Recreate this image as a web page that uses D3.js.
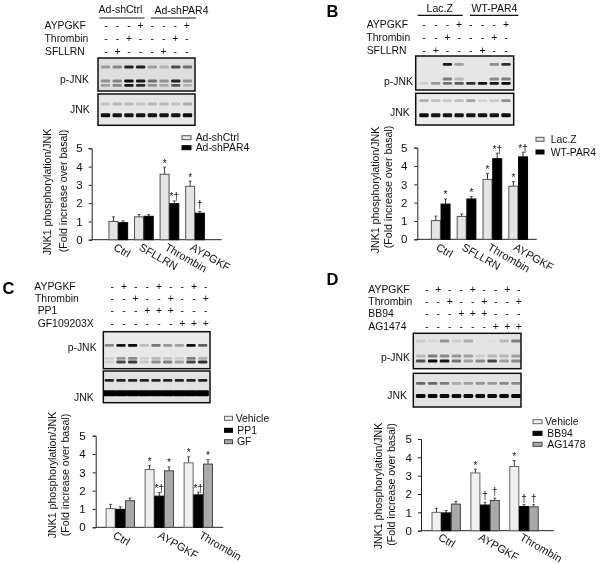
<!DOCTYPE html>
<html><head><meta charset="utf-8">
<script src="https://cdn.jsdelivr.net/npm/d3@7/dist/d3.min.js"></script>
<style>
html,body{margin:0;padding:0;background:#fff}
svg{display:block}
text{font-family:"Liberation Sans",Arial,sans-serif;fill:#111}
</style></head><body>
<svg id="fig" width="600" height="564"></svg>
<script>
// ---------- DATA ----------
const ticks = [0,1,2,3,4,5];
const yTitle = ["JNK1 phosphorylation/JNK","(Fold increase over basal)"];

const aCategories = ["Ctrl","SFLLRN","Thrombin","AYPGKF"];
const aSeries = ["Ad-shCtrl","Ad-shPAR4"];
const aValues = [[1.0,1.25,3.58,2.92],[0.93,1.28,1.97,1.45]];
const aErrTops = [[1.25,1.38,3.97,3.2],[1.03,1.37,2.12,1.55]];
const aNotes = [["","","*","*"],["","","*†","†"]];

const bCategories = ["Ctrl","SFLLRN","Thrombin","AYPGKF"];
const bSeries = ["Lac.Z","WT-PAR4"];
const bValues = [[1.02,1.25,3.27,2.9],[1.92,2.2,4.4,4.5]];
const bErrTops = [[1.27,1.38,3.6,3.15],[2.2,2.33,4.7,4.75]];
const bNotes = [["","","*","*"],["*","*","*†","*†"]];

const cCategories = ["Ctrl","AYPGKF","Thrombin"];
const cSeries = ["Vehicle","PP1","GF"];
const cValues = [[1.02,3.15,3.52],[0.98,1.7,1.77],[1.45,3.08,3.45]];
const cErrTops = [[1.25,3.38,3.85],[1.12,1.9,1.92],[1.6,3.3,3.7]];
const cNotes = [["","*","*"],["","*†","*†"],["","*","*"]];

const dCategories = ["Ctrl","AYPGKF","Thrombin"];
const dSeries = ["Vehicle","BB94","AG1478"];
const dValues = [[1.0,3.15,3.5],[0.97,1.4,1.32],[1.45,1.65,1.3]];
const dErrTops = [[1.22,3.35,3.82],[1.1,1.55,1.42],[1.6,1.78,1.42]];
const dNotes = [["","*","*"],["","†","†"],["","†","†"]];

const aTreatments = ["AYPGKF","Thrombin","SFLLRN"];
const aSigns = ["---+---+","--+---+-","-+---+--"];
const bTreatments = ["AYPGKF","Thrombin","SFLLRN"];
const bSigns = ["---+---+","--+---+-","-+---+--"];
const cTreatments = ["AYPGKF","Thrombin","PP1","GF109203X"];
const cSigns = ["-+--+--+-","--+--+--+","---+++---","------+++"];
const dTreatments = ["AYPGKF","Thrombin","BB94","AG1474"];
const dSigns = ["-+--+--+-","--+--+--+","---+++---","------+++"];

// blot band intensities, lane by lane
const aPJnk = [[.3,.4,.85,.85,.3,.2,.65,.5],[.35,.4,.95,.9,.5,.35,.85,.35],[.3,.4,.9,.8,.35,.25,.6,.2]];
const aJnk  = [[.15,.2,.2,.15,.2,.2,.15,.25],[.95,.9,.9,.9,.9,.9,.9,.95]];
const bPJnk = [[0,0,.9,.3,0,0,.4,.8],[0,0,.45,.2,0,0,.4,.45],[.1,.35,.5,.6,.8,.95,.9,1]];
const bJnk  = [[.25,.2,.15,.2,.3,.1,.15,.4],[.95,.9,.9,.9,.9,.9,.9,.95]];
const cPJnk = [[.4,.9,.95,.2,.5,.35,.3,.95,.6],[.1,.35,.4,.1,.2,.15,.1,.45,.25],[.1,.7,.75,.15,.4,.45,.3,.7,.8]];
const cJnk  = [[.85,.85,.85,.85,.85,.85,.85,.85,.85],[1,1,1,1,1,1,1,1,1]];
const dPJnk = [[.1,.05,.35,.1,.25,0,.03,.2,.45],[.2,.45,.4,.35,.3,.1,.2,.2,.3],[.65,1,.9,.5,.3,.4,.7,.3,.4]];
const dJnk  = [[.55,.55,.45,.25,.3,.35,.35,.4,.4],[.95,.95,.95,.95,.95,.95,.95,.95,.95]];

// ---------- STYLE / LAYOUT ----------
const FS = 10.4, BAR = 9.7;
const fills = {light2:["#e4e4e4","#000"], tri:["#efefef","#000","#a9a9a9"]};
const strokes = {"#e4e4e4":"#555","#efefef":"#666","#000":"#000","#a9a9a9":"#444"};

const svg = d3.select("#fig");
const defs = svg.append("defs");
defs.append("filter").attr("id","soft").append("feGaussianBlur").attr("stdDeviation",.3);
defs.append("filter").attr("id","band").attr("x","-30%").attr("y","-100%").attr("width","160%").attr("height","300%")
  .append("feGaussianBlur").attr("stdDeviation",.7);
const root = svg.append("g").attr("filter","url(#soft)");

function chart(o){
  const g = root.append("g");
  const n = o.categories.length;
  const y = d3.scaleLinear().domain([0,5]).range([o.y0,o.y5]);
  const span = (o.cN-o.c1)/(n-1);
  const x0 = d3.scaleBand().domain(o.categories).range([o.c1-span/2,o.cN+span/2]);
  const x1 = d3.scaleBand().domain(d3.range(o.series.length)).range([0,BAR*o.series.length]);
  const offs = x0.bandwidth()/2 - BAR*o.series.length/2;

  g.append("g").attr("transform",`translate(${o.axisX},0)`)
    .call(d3.axisLeft(y).tickValues(ticks).tickSize(3).tickPadding(o.tickPad).tickFormat(d3.format("d")))
    .call(s=>{s.select(".domain").attr("stroke","#222");s.selectAll("line").attr("stroke","#222");
      s.selectAll("text").attr("font-size",11.5).style("font-family",'"Liberation Sans",Arial,sans-serif').attr("fill","#111");});

  const xAxis = g.append("g").attr("transform",`translate(0,${o.y0})`)
    .call(d3.axisBottom(x0).tickSize(0));
  xAxis.select(".domain").remove();
  xAxis.selectAll("text").attr("font-size",11).attr("fill","#111")
    .style("font-family",'"Liberation Sans",Arial,sans-serif')
    .attr("text-anchor","start").attr("dy",null).attr("y",null).attr("dominant-baseline","central")
    .attr("transform",(d,i)=>`translate(${o.labelDx[i]},${o.labelY-o.y0}) rotate(30)`);
  g.append("line").attr("x1",o.axisX).attr("x2",o.axisEnd).attr("y1",o.y0).attr("y2",o.y0).attr("stroke","#222");

  o.series.forEach((s,si)=>{
    const sg = g.append("g");
    const px = c=>x0(c)+offs+x1(si);
    const rows = o.categories.map((c,i)=>({c,v:o.values[si][i],e:o.errs[si][i],t:o.notes[si][i]}));
    sg.selectAll("line.err").data(rows).join("line").attr("class","err")
      .attr("x1",d=>px(d.c)+BAR/2).attr("x2",d=>px(d.c)+BAR/2).attr("y1",d=>y(d.v)).attr("y2",d=>y(d.e))
      .attr("stroke","#333").attr("stroke-width",1);
    sg.selectAll("line.cap").data(rows).join("line").attr("class","cap")
      .attr("x1",d=>px(d.c)+BAR/2-1.5).attr("x2",d=>px(d.c)+BAR/2+1.5).attr("y1",d=>y(d.e)).attr("y2",d=>y(d.e))
      .attr("stroke","#333").attr("stroke-width",.8);
    sg.selectAll("rect").data(rows).join("rect")
      .attr("x",d=>px(d.c)+.35).attr("width",BAR-.7).attr("y",d=>y(d.v)).attr("height",d=>y(0)-y(d.v))
      .attr("fill",o.fills[si]).attr("stroke",strokes[o.fills[si]]).attr("stroke-width",1);
    sg.selectAll("text").data(rows.filter(d=>d.t)).join("text")
      .attr("x",d=>px(d.c)+BAR/2).attr("y",d=>y(d.e)-(d.t==="†"?3:0.5))
      .attr("text-anchor","middle").attr("font-size",10).text(d=>d.t);
  });

  // y title
  yTitle.forEach((t,i)=>g.append("text")
    .attr("transform",`translate(${o.titleX[i]},${o.titleY[i]}) rotate(-90)`)
    .attr("text-anchor","middle").attr("dominant-baseline","central")
    .attr("font-size",10.6).text(t));

  // legend
  o.series.forEach((s,i)=>{
    g.append("rect").attr("x",o.legX).attr("y",o.legY[i]-2).attr("width",o.legW).attr("height",4)
      .attr("fill",o.fills[i]).attr("stroke",strokes[o.fills[i]]);
    g.append("text").attr("x",o.legTextX[i]).attr("y",o.legY[i]).attr("dominant-baseline","central")
      .attr("font-size",FS).text(s);
  });
}

function blot(o){
  const g = root.append("g");
  // treatment table
  const xs = d3.scalePoint().domain(d3.range(o.signs[0].length)).range(o.signRange);
  o.treatments.forEach((t,r)=>{
    g.append("text").attr("x",o.labelX[r]).attr("y",o.rowY[r]).attr("dominant-baseline","central")
      .attr("font-size",FS).text(t);
    g.selectAll(null).data(o.signs[r].split("")).join("text")
      .attr("x",(d,i)=>xs(i)).attr("y",o.rowY[r]).attr("text-anchor","middle").attr("dominant-baseline","central")
      .attr("font-size",FS).text(d=>d);
  });
  // boxes + bands
  const lanes = d3.scalePoint().domain(d3.range(o.pjnk[0].length)).range(o.laneRange);
  const bw = (o.laneRange[1]-o.laneRange[0])/(o.pjnk[0].length-1)*.8;
  [[o.box1,o.pjnk,o.y1,o.bg[0]],[o.box2,o.jnk,o.y2,o.bg[1]]].forEach(([b,rows,ys,bg],k)=>{
    g.append("rect").attr("x",b[0]).attr("y",b[1]).attr("width",b[2]-b[0]).attr("height",b[3]-b[1]).attr("fill",bg);
    rows.forEach((row,r)=>{
      const h = (k===1&&r===rows.length-1)?o.thick:2.8;
      const wide = o.solid&&k===1&&r===1;
      g.append("g").attr("filter","url(#band)").selectAll("rect").data(row).join("rect")
        .attr("x",(d,i)=>lanes(i)-bw/2-(wide?1.5:0))
        .attr("width",bw+(wide?3:0))
        .attr("y",ys[r]-h/2).attr("height",h).attr("rx",1.2)
        .attr("fill","#050505").attr("fill-opacity",d=>d);
    });
    g.append("rect").attr("x",b[0]).attr("y",b[1]).attr("width",b[2]-b[0]).attr("height",b[3]-b[1])
      .attr("fill","none").attr("stroke","#111").attr("stroke-width",1.5);
  });
  g.append("text").attr("x",o.pLabel[0]).attr("y",o.pLabel[1]).attr("dominant-baseline","central").attr("font-size",FS).text("p-JNK");
  g.append("text").attr("x",o.jLabel[0]).attr("y",o.jLabel[1]).attr("dominant-baseline","central").attr("font-size",FS).text("JNK");
  (o.headers||[]).forEach(h=>{
    g.append("text").attr("x",h.x).attr("y",h.y).attr("text-anchor","middle").attr("dominant-baseline","central").attr("font-size",10.5).text(h.t);
    g.append("line").attr("x1",h.l[0]).attr("x2",h.l[1]).attr("y1",h.ly).attr("y2",h.ly).attr("stroke","#111").attr("stroke-width",1.2);
  });
  if(o.letter) g.append("text").attr("x",o.letter[1]).attr("y",o.letter[2]).attr("font-size",16.5)
    .attr("font-weight","bold").attr("fill","#000").style("fill","#000").text(o.letter[0]);
}

// Panel A
blot({treatments:aTreatments,signs:aSigns,signRange:[106,186.7],rowY:[25,38.3,51.7],labelX:[44.5,44.5,45],
  pjnk:aPJnk,jnk:aJnk,laneRange:[105.5,187.5],box1:[98,58,195,91],box2:[98,94,195,125.3],
  y1:[67,81,85.3],y2:[104,115.3],bg:["#dedede","#e6e6e6"],thick:4,pLabel:[60,79.3],jLabel:[70,109.3],
  headers:[{t:"Ad-shCtrl",x:120.5,y:9,l:[99.3,144.3],ly:18},{t:"Ad-shPAR4",x:181.5,y:10,l:[151,195.7],ly:18}]});
chart({categories:aCategories,series:aSeries,values:aValues,errs:aErrTops,notes:aNotes,fills:fills.light2,
  y0:239.7,y5:148.3,c1:118.3,cN:195,axisX:91.7,axisEnd:221.7,tickPad:6,labelY:246,labelDx:[-3.5,-3.5,-3.5,-3.5],
  titleX:[47.3,62.7],titleY:[192,191],legX:182,legW:9,legY:[137.7,147.7],legTextX:[195.7,195.7]});

// Panel B
blot({treatments:bTreatments,signs:bSigns,signRange:[424,506],rowY:[24,37,50.3],labelX:[366.7,366.3,366.7],
  pjnk:bPJnk,jnk:bJnk,laneRange:[424,506],box1:[415.7,56,513.7,90],box2:[415.7,93.3,513.7,125],
  y1:[64.3,79,83.3],y2:[100.7,115.3],bg:["#e6e6e6","#ececec"],thick:4,pLabel:[384,81],jLabel:[390,112.7],
  headers:[{t:"Lac.Z",x:439.7,y:8,l:[417.7,462.7],ly:15.3},{t:"WT-PAR4",x:494.5,y:8,l:[470,518.3],ly:15.3}],
  letter:["B",326.5,16.5]});
chart({categories:bCategories,series:bSeries,values:bValues,errs:bErrTops,notes:bNotes,fills:fills.light2,
  y0:239.3,y5:147.7,c1:440.7,cN:518.2,axisX:417.3,axisEnd:536.7,tickPad:7,labelY:246,labelDx:[-3.5,-3.5,-3.5,-3.5],
  titleX:[375,388.3],titleY:[190,187],legX:536,legW:8,legY:[139.3,152],legTextX:[550.7,550.7]});

// Panel C
blot({treatments:cTreatments,signs:cSigns,signRange:[112.3,205.7],rowY:[286.7,298.7,310.7,323],labelX:[34.3,35,37.7,37.7],
  pjnk:cPJnk,jnk:cJnk,laneRange:[109.3,202.7],box1:[103.3,331.7,210,368.7],box2:[103.3,371,210,402.7],
  y1:[345.3,358.3,362],y2:[380.3,393.3],bg:["#e8e8e8","#e2e2e2"],thick:6,solid:true,pLabel:[67.7,347.7],jLabel:[74,397.7],
  letter:["C",2.5,293.5]});
chart({categories:cCategories,series:cSeries,values:cValues,errs:cErrTops,notes:cNotes,fills:fills.tri,
  y0:527.3,y5:435.7,c1:120.3,cN:198.3,axisX:95.7,axisEnd:223.3,tickPad:7,labelY:534,labelDx:[-6,0,2],
  titleX:[51.7,65],titleY:[475,475],legX:224.5,legW:8,legY:[418.3,430.3,441.7],legTextX:[235.7,237.3,237]});

// Panel D
blot({treatments:dTreatments,signs:dSigns,signRange:[426.7,518.7],rowY:[289.7,301.7,313.3,326.7],labelX:[368.3,368.3,368.3,368.3],
  pjnk:dPJnk,jnk:dJnk,laneRange:[420.7,516],box1:[413.3,333.3,521,368.7],box2:[413.3,373.3,521,407],
  y1:[341,356,361],y2:[383.3,396],bg:["#e4e4e4","#e2e2e2"],thick:4,pLabel:[381,357.7],jLabel:[387.3,395.7],
  letter:["D",326.5,285]});
chart({categories:dCategories,series:dSeries,values:dValues,errs:dErrTops,notes:dNotes,fills:fills.tri,
  y0:530.7,y5:439,c1:446.2,cN:524,axisX:421,axisEnd:554,tickPad:6,labelY:536,labelDx:[-6.6,-5.3,-3],
  titleX:[377.7,390.7],titleY:[486,484.5],legX:533,legW:9,legY:[421.7,433.3,444.3],legTextX:[545,547.3,547.3]});
</script>
</body></html>
